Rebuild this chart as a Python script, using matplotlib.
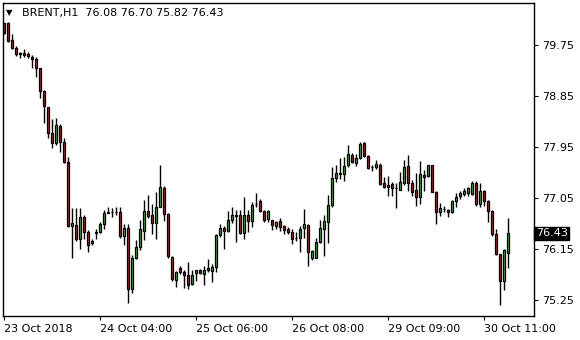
import matplotlib
matplotlib.use("Agg")
import matplotlib.pyplot as plt
import numpy as np

# hourly BRENT bars
opens = [80.13, 80.14, 79.84, 79.69, 79.60, 79.61, 79.59, 79.54, 79.50, 79.34,
         78.94, 78.65, 78.19, 78.02, 78.32, 78.03, 77.69, 76.56, 76.58, 76.32,
         76.71, 76.45, 76.30, 76.43, 76.45, 76.59, 76.79, 76.80, 76.81, 76.81,
         76.38, 76.53, 75.44, 76.00, 76.18, 76.47, 76.82, 76.76, 76.61, 76.89,
         77.22, 76.77, 76.01, 75.60, 75.81, 75.74, 75.70, 75.53, 75.72, 75.78,
         75.71, 75.78, 75.77, 75.83, 76.39, 76.53, 76.47, 76.67, 76.76, 76.75,
         76.44, 76.76, 76.64, 76.95, 76.99, 76.82, 76.68, 76.66, 76.56, 76.64,
         76.55, 76.50, 76.46, 76.35, 76.34, 76.52, 76.58, 75.99, 76.00, 76.27,
         76.50, 76.63, 76.93, 77.41, 77.47, 77.47, 77.63, 77.81, 77.66, 77.75,
         78.02, 77.79, 77.59, 77.59, 77.63, 77.32, 77.24, 77.29, 77.22, 77.20,
         77.32, 77.61, 77.31, 77.19, 77.07, 77.46, 77.44, 77.63, 77.16, 76.80,
         76.85, 76.84, 76.80, 77.00, 77.08, 77.12, 77.14, 77.13, 77.31, 76.94,
         77.17, 77.00, 76.83, 76.41, 76.06, 75.59, 76.08]
highs = [80.13, 80.16, 79.94, 79.74, 79.63, 79.68, 79.63, 79.57, 79.54, 79.34,
         78.96, 78.66, 78.44, 78.47, 78.35, 78.11, 77.78, 76.87, 76.87, 76.87,
         76.75, 76.48, 76.33, 76.51, 76.62, 76.84, 76.90, 76.87, 76.90, 76.89,
         76.59, 76.59, 76.04, 76.31, 76.66, 77.01, 77.10, 76.94, 77.16, 77.63,
         77.26, 76.79, 76.02, 75.77, 75.86, 75.79, 75.93, 75.78, 75.79, 75.80,
         75.85, 75.98, 75.89, 76.42, 76.60, 76.56, 76.83, 76.89, 76.84, 76.84,
         77.07, 76.84, 76.98, 77.14, 77.03, 76.84, 76.84, 76.67, 76.64, 76.69,
         76.57, 76.54, 76.51, 76.46, 76.56, 76.85, 76.60, 76.13, 76.34, 76.66,
         76.75, 77.10, 77.59, 77.64, 77.76, 77.78, 77.99, 77.85, 77.83, 78.03,
         78.04, 77.81, 77.64, 77.72, 77.66, 77.42, 77.44, 77.34, 77.31, 77.51,
         77.72, 77.81, 77.37, 77.50, 77.70, 77.54, 77.63, 77.63, 77.17, 76.97,
         76.91, 76.85, 77.02, 77.14, 77.17, 77.22, 77.25, 77.35, 77.35, 77.31,
         77.19, 77.02, 76.84, 76.50, 76.07, 76.16, 76.70]
lows = [79.94, 79.80, 79.67, 79.56, 79.52, 79.53, 79.52, 79.34, 79.19, 78.82,
        78.38, 78.11, 77.94, 77.99, 77.87, 77.66, 76.54, 75.99, 76.29, 76.16,
        76.33, 76.09, 76.22, 76.33, 76.44, 76.50, 76.78, 76.72, 76.76, 76.35,
        76.22, 75.20, 75.38, 75.98, 76.13, 76.31, 76.70, 76.41, 76.33, 76.89,
        76.65, 75.99, 75.59, 75.49, 75.71, 75.47, 75.45, 75.51, 75.59, 75.71,
        75.51, 75.75, 75.57, 75.74, 76.36, 76.15, 76.45, 76.61, 76.28, 76.42,
        76.33, 76.45, 76.54, 76.90, 76.80, 76.62, 76.63, 76.48, 76.50, 76.47,
        76.41, 76.42, 76.24, 76.29, 76.09, 76.34, 75.85, 75.95, 75.99, 76.25,
        76.03, 76.25, 76.90, 77.34, 77.38, 77.35, 77.60, 77.66, 77.61, 77.73,
        77.77, 77.57, 77.53, 77.57, 77.28, 77.22, 77.09, 77.09, 76.87, 77.19,
        77.28, 77.18, 77.09, 76.91, 76.94, 77.18, 77.42, 77.15, 76.59, 76.74,
        76.80, 76.72, 76.79, 76.90, 77.03, 77.08, 77.09, 77.10, 76.91, 76.90,
        76.91, 76.62, 76.38, 76.04, 75.17, 75.43, 75.82]
closes = [79.96, 79.82, 79.69, 79.59, 79.59, 79.57, 79.56, 79.50, 79.34, 78.94,
          78.67, 78.19, 78.02, 78.34, 78.03, 77.69, 76.56, 76.61, 76.32, 76.71,
          76.45, 76.23, 76.25, 76.45, 76.59, 76.79, 76.81, 76.80, 76.81, 76.38,
          76.53, 75.44, 76.00, 76.18, 76.50, 76.82, 76.73, 76.61, 76.89, 77.24,
          76.77, 76.02, 75.62, 75.74, 75.75, 75.70, 75.51, 75.69, 75.78, 75.72,
          75.78, 75.81, 75.83, 76.39, 76.53, 76.47, 76.67, 76.76, 76.74, 76.44,
          76.76, 76.64, 76.93, 76.95, 76.82, 76.66, 76.82, 76.58, 76.62, 76.54,
          76.48, 76.45, 76.33, 76.35, 76.50, 76.60, 76.09, 76.11, 76.27, 76.53,
          76.65, 76.93, 77.41, 77.50, 77.50, 77.61, 77.82, 77.69, 77.75, 78.00,
          77.79, 77.58, 77.59, 77.65, 77.29, 77.24, 77.28, 77.22, 77.22, 77.33,
          77.59, 77.31, 77.16, 77.07, 77.47, 77.43, 77.63, 77.16, 76.80, 76.87,
          76.85, 76.80, 77.00, 77.06, 77.14, 77.17, 77.22, 77.31, 76.94, 77.17,
          77.00, 76.83, 76.41, 76.07, 75.59, 76.13, 76.43]

time_ticks = [0, 24, 48, 72, 96, 120]
time_labels = ["23 Oct 2018", "24 Oct 04:00", "25 Oct 06:00",
               "26 Oct 08:00", "29 Oct 09:00", "30 Oct 11:00"]
price_ticks = [75.25, 76.15, 77.05, 77.95, 78.85, 79.75]

o = np.array(opens)
h = np.array(highs)
l = np.array(lows)
c = np.array(closes)
x = np.arange(len(o))

plt.rcParams['font.family'] = 'DejaVu Sans'
fig = plt.figure(figsize=(5.8, 3.4), dpi=100)
ax = fig.add_axes([2.5 / 580, 24 / 340, 531.5 / 580, 313 / 340])

up = c >= o
ax.vlines(x, l, h, color='black', linewidth=1.0, zorder=1)
bottom = np.minimum(o, c)
height = np.abs(c - o)
ax.bar(x[up], height[up], bottom=bottom[up], width=0.62,
       color='#22c322', edgecolor='black', linewidth=0.9, zorder=2)
ax.bar(x[~up], height[~up], bottom=bottom[~up], width=0.62,
       color='#e01010', edgecolor='black', linewidth=0.9, zorder=2)

ax.set_xlim(-0.375, 132.5)
ax.set_ylim(74.97, 80.49)

ax.yaxis.tick_right()
ax.set_yticks(price_ticks)
ax.set_yticklabels(["%.2f" % p for p in price_ticks])
ax.set_xticks(time_ticks)
ax.set_xticklabels(time_labels, ha='left')
ax.tick_params(axis='both', labelsize=8, colors='black', length=3, width=0.8,
               direction='out')
ax.tick_params(axis='x', pad=3)
ax.tick_params(axis='y', pad=3)
for s in ax.spines.values():
    s.set_linewidth(1.0)
    s.set_color('black')

# last price box
ax.text(1.003, c[-1], "%.2f" % c[-1], transform=ax.get_yaxis_transform(),
        ha='left', va='center', fontsize=8, color='white',
        bbox=dict(boxstyle='square,pad=0.15', fc='black', ec='black'))

# header
fig.text(6 / 580, 1 - 13 / 340, u"\u25bc", fontsize=6, va='center', ha='left')
fig.text(22 / 580, 1 - 13 / 340, "BRENT,H1  76.08 76.70 75.82 76.43",
         fontsize=8, va='center', ha='left')

fig.savefig("out.png", dpi=100)
